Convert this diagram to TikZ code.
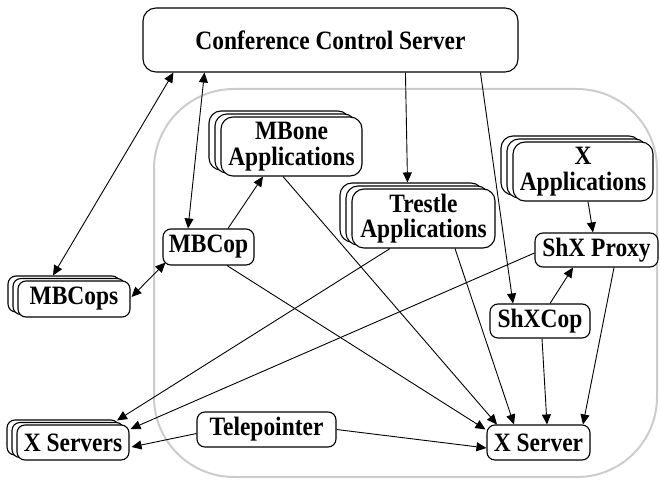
\documentclass[tikz,border=0pt]{standalone}
\usepackage{fontspec}
\setmainfont{Liberation Serif}
\newfontfamily\lblfont{Liberation Serif}[FakeStretch=0.885]
\usetikzlibrary{arrows.meta,shadows}
\begin{document}
\begin{tikzpicture}[x=1pt,y=-1pt,
  box/.style={draw=black, fill=white, line width=1.1pt, rounded corners=8pt, inner sep=0pt,
    align=center, font=\lblfont\bfseries\fontsize{26.5}{25.5}\selectfont},
  bigbox/.style={box, rounded corners=12pt},
  stackbig/.style={bigbox,
    general shadow={shadow xshift=-12pt, shadow yshift=6pt, fill=white, draw=black, line width=1.1pt},
    general shadow={shadow xshift=-6pt, shadow yshift=3pt, fill=white, draw=black, line width=1.1pt}},
  stacksmall/.style={box,
    general shadow={shadow xshift=-10pt, shadow yshift=5pt, fill=white, draw=black, line width=1.1pt},
    general shadow={shadow xshift=-5pt, shadow yshift=2.5pt, fill=white, draw=black, line width=1.1pt}},
  tip/.tip={Triangle[length=10pt,width=9pt]},
  conn/.style={line width=0.9pt, -tip},
  dconn/.style={line width=0.9pt, tip-tip},
  region/.style={draw=black!20, line width=2pt, rounded corners=80pt}
]
\useasboundingbox (0,0) rectangle (660,481);
\draw[region] (154,89) rectangle (657,477);

\node[box, rounded corners=13pt, minimum width=375pt, minimum height=64pt] (ccs) at (330.5,40) {Conference Control Server};
\node[stackbig, minimum width=141pt, minimum height=59pt] (mbone) at (291.5,146.5) {MBone\\Applications};
\node[stackbig, minimum width=143pt, minimum height=59pt] (trestle) at (423.5,218.5) {Trestle\\Applications};
\node[stackbig, minimum width=140pt, minimum height=59pt] (xapps) at (583,171.5) {X\\Applications};
\node[box, minimum width=123pt, minimum height=34pt] (shxproxy) at (596.5,250) {ShX Proxy};
\node[box, minimum width=100pt, minimum height=34pt] (shxcop) at (540,321) {ShXCop};
\node[box, minimum width=91pt, minimum height=36pt] (mbcop) at (208.5,247) {MBCop};
\node[stacksmall, minimum width=112pt, minimum height=36pt] (mbcops) at (74,299) {MBCops};
\node[stacksmall, minimum width=112pt, minimum height=35pt] (xservers) at (73,442.5) {X Servers};
\node[box, minimum width=139pt, minimum height=35pt] (telep) at (266.5,429.5) {Telepointer};
\node[box, minimum width=103pt, minimum height=35pt] (xserver) at (538.5,442.5) {X Server};

% Conference Control Server links
\draw[dconn] ([shift={(31,0)}]ccs.south west) -- ([shift={(-21,-5)}]mbcops.north);
\draw[dconn] ([shift={(62,0)}]ccs.south west) -- ([shift={(-20.5,0)}]mbcop.north);
\draw[conn] ([shift={(263,0)}]ccs.south west) -- ([shift={(-16,-6)}]trestle.north);
\draw[conn] ([shift={(338,0)}]ccs.south west) -- ([shift={(-27,0)}]shxcop.north);

% MBone side
\draw[conn] ([shift={(19.5,0)}]mbcop.north) -- ([shift={(-28.5,0)}]mbone.south);
\draw[dconn] ([shift={(1,-2)}]mbcops.east) -- ([shift={(3,-3)}]mbcop.south west);

% to X Server
\draw[conn] ([shift={(-8.5,0)}]mbone.south) -- ([shift={(-41.5,0)}]xserver.north);
\draw[conn] ([shift={(18.5,0)}]mbcop.south) -- ([shift={(-1,5)}]xserver.north west);
\draw[conn] ([shift={(31.5,0)}]trestle.south) -- ([shift={(-24.5,0)}]xserver.north);
\draw[conn] ([shift={(2,0)}]shxcop.south) -- ([shift={(8.5,0)}]xserver.north);
\draw[conn] ([shift={(17.5,0)}]shxproxy.south) -- ([shift={(44.5,0)}]xserver.north);
\draw[conn] (telep.east) -- ([shift={(0,5.5)}]xserver.west);

% to X Servers
\draw[conn] ([shift={(-33.5,0)}]trestle.south) -- ([shift={(44,-4)}]xservers.north);
\draw[conn] ([shift={(0,3)}]shxproxy.west) -- ([shift={(1,-13.5)}]xservers.east);
\draw[conn] ([shift={(0,4)}]telep.west) -- ([shift={(2,4.5)}]xservers.east);

% ShX
\draw[conn] ([shift={(10,0)}]shxcop.north) -- ([shift={(-23.5,0)}]shxproxy.south);
\draw[conn] ([shift={(5,0)}]xapps.south) -- ([shift={(-3.5,0)}]shxproxy.north);
\end{tikzpicture}
\end{document}
